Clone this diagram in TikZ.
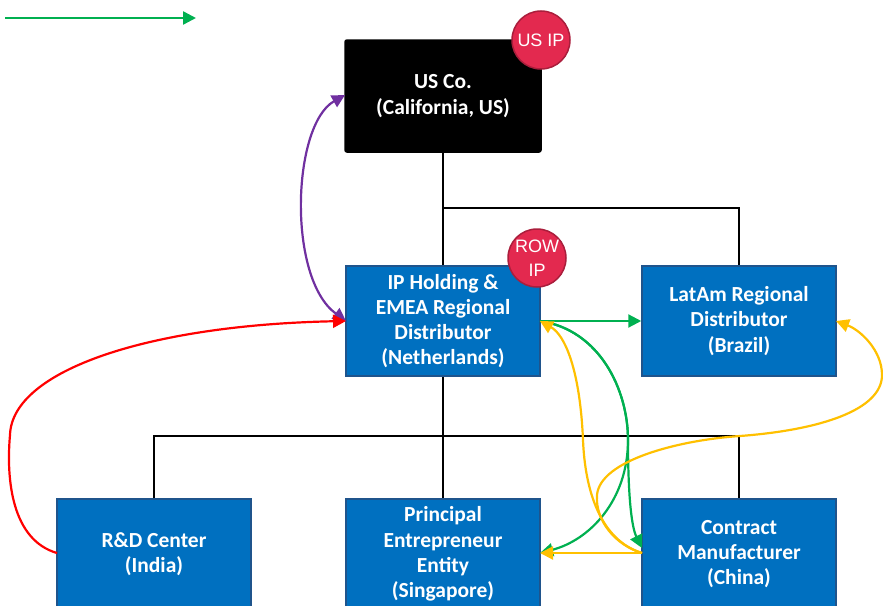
\documentclass[tikz,border=0pt]{standalone}
\usepackage{fontspec}
\setmainfont{Carlito}
\newfontfamily\arialfont{Liberation Sans}
\usetikzlibrary{arrows.meta}
\definecolor{boxblue}{RGB}{0,112,192}
\definecolor{boxedge}{RGB}{31,84,140}
\definecolor{ipred}{RGB}{227,41,79}
\definecolor{ipedge}{RGB}{170,30,60}
\definecolor{flowgreen}{RGB}{0,176,80}
\definecolor{flowyellow}{RGB}{255,192,0}
\definecolor{flowpurple}{RGB}{112,48,160}
\definecolor{flowred}{RGB}{255,0,0}
\begin{document}
\begin{tikzpicture}[x=1pt,y=-1pt,
  entity/.style={draw=boxedge, line width=1.5pt, fill=boxblue, text=white,
    minimum width=194pt, minimum height=110pt, inner sep=0pt, align=center,
    font=\bfseries\fontsize{21.5}{25.2}\selectfont},
  parent/.style={entity, fill=black, draw=black, rounded corners=2pt, minimum width=196pt, minimum height=112pt},
  ipbadge/.style={circle, draw=ipedge, line width=1.5pt, fill=ipred, text=white,
    minimum size=58pt, inner sep=0pt, align=center,
    font=\arialfont\fontsize{18}{24}\selectfont},
  orgline/.style={draw=black, line width=1.6pt},
  tip/.style={-{Triangle[length=13pt,width=13pt]}},
  flow/.style={line width=2.2pt}]
\useasboundingbox (0,0) rectangle (883,605);
\clip (0,0) rectangle (883,605);
% nodes
\node[parent] (us) at (443,96) {US Co.\\(California, US)};
\node[entity] (iph) at (443,321) {IP Holding \&\\EMEA Regional\\Distributor\\(Netherlands)};
\node[entity] (latam) at (739,321) {LatAm Regional\\Distributor\\(Brazil)};
\node[entity] (rd) at (154,554) {R\&D Center\\(India)};
\node[entity] (pe) at (443,554) {Principal\\Entrepreneur\\Entity\\(Singapore)};
\node[entity] (cm) at (739,554) {Contract\\Manufacturer\\(China)};
\node[ipbadge] (usip) at (541,40) {US IP};
\node[ipbadge] (rowip) at (537,258) {ROW\\IP};
% legend arrow
\coordinate (lgA) at (5,18);
\coordinate (lgB) at (196,18);
\draw[flow, flowgreen, tip, line width=2.5pt] (lgA) -- (lgB);
% org lines
\coordinate (topjoin) at (443,208);
\coordinate (botjoin) at (443,436);
\draw[orgline] (us.south) -- (iph.north);
\draw[orgline] (topjoin) -| (latam.north);
\draw[orgline] (iph.south) -- (pe.north);
\draw[orgline] (rd.north) |- (botjoin) -| (cm.north);
% coordinates for flows
\coordinate (iphR) at (540,321);
\coordinate (iphL) at (346,321);
\coordinate (cmL) at (642,553);
\coordinate (cmLg) at (642,548);
\coordinate (peR) at (540,553);
\coordinate (latR) at (836,321);
\coordinate (usL) at (345,95);
\coordinate (rdL) at (57,553);
% purple
\draw[flow, flowpurple, {Triangle[length=13pt,width=13pt]}-{Triangle[length=13pt,width=13pt]}]
  (usL) .. controls (292,125) and (287,278) .. (iphL);
% red
\draw[flow, flowred, tip]
  (rdL) .. controls (12,540) and (6,480) .. (10,435) .. controls (12,370) and (150,325) .. (iphL);
% green
\draw[flow, flowgreen, tip] (iphR) -- (latam.west);
\draw[flow, flowgreen, tip]
  (iphR) .. controls (600,330) and (628,390) .. (628,440) .. controls (628,500) and (632,528) .. (cmLg);
\draw[flow, flowgreen, tip]
  (iphR) .. controls (600,330) and (628,390) .. (628,440) .. controls (628,500) and (590,540) .. (peR);
% yellow
\draw[flow, flowyellow, tip] (cmL) -- (peR);
\draw[flow, flowyellow, tip]
  (cmL) .. controls (600,540) and (585,490) .. (583,440) .. controls (580,370) and (565,335) .. (iphR);
\draw[flow, flowyellow, tip]
  (cmL) .. controls (615,545) and (595,520) .. (597,495) .. controls (600,460) and (680,440) .. (740,436)
  .. controls (820,430) and (882,410) .. (882,375) .. controls (882,350) and (860,330) .. (latR);
\end{tikzpicture}
\end{document}
